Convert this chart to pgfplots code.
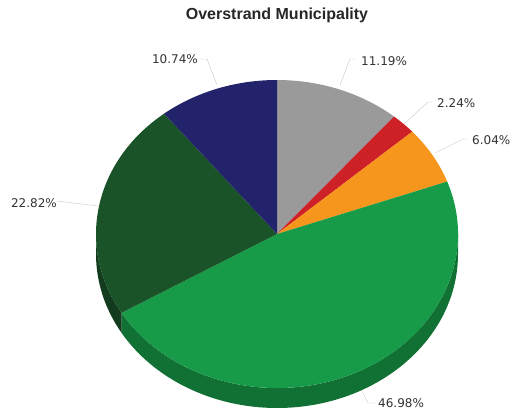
\documentclass[border=0pt]{standalone}
\usepackage{pgfplots}
\pgfplotsset{compat=1.18}
\usepackage{fontspec}
\setmainfont{DejaVu Sans}
\newfontfamily\titlefont{Liberation Sans}

\definecolor{sgray}{HTML}{9A9A9A}
\definecolor{sred}{HTML}{CE2027}
\definecolor{sorange}{HTML}{F7961D}
\definecolor{sgreen}{HTML}{179B48}
\definecolor{sdkgreen}{HTML}{1B5329}
\definecolor{snavy}{HTML}{22236A}
\definecolor{leader}{HTML}{C8C8C8}
\definecolor{labeltxt}{HTML}{333333}

% share (%) / colour, clockwise from 12 o'clock
\newcommand{\pieslices}{11.19/sgray, 2.24/sred, 6.04/sorange, 46.98/sgreen, 22.82/sdkgreen, 10.74/snavy}
\newcommand{\cx}{277}
\newcommand{\cy}{234}

\begin{document}
\begin{tikzpicture}
\begin{axis}[
    scale only axis,
    width=513pt, height=414pt,
    xmin=0, xmax=513, ymin=0, ymax=414,
    y dir=reverse,
    enlargelimits=false,
    hide axis,
    clip=false,
]
% leader lines
\addplot[leader, thin] coordinates {(355,59)(350,59)(340,85)};
\addplot[leader, thin] coordinates {(433,102)(428,102)(404,124)};
\addplot[leader, thin] coordinates {(468,139)(463,139)(435,153)};
\addplot[leader, thin] coordinates {(200,59)(207,59)(217,85)};
\addplot[leader, thin] coordinates {(57,201)(98,206)};
\addplot[leader, thin] coordinates {(375,403)(368,403)(355,377)};

\pgfplotsextra{
  \path (axis cs:0,0) rectangle (axis cs:513,414);
  % side walls (front half only)
  \xdef\pieS{90}
  \foreach \v/\c in \pieslices {
    \pgfmathsetmacro\pieE{\pieS-3.6*\v}
    \pgfmathsetmacro\lo{max(\pieE,-180)}
    \pgfmathsetmacro\hi{min(\pieS,0)}
    \pgfmathtruncatemacro\vis{\lo<\hi}
    \ifnum\vis=1
      \fill[fill=\c!72!black] (axis cs:\cx,\cy) ++(\lo:181pt and 154pt)
        arc[start angle=\lo, end angle=\hi, x radius=181pt, y radius=154pt]
        -- ++(0,-20pt)
        arc[start angle=\hi, end angle=\lo, x radius=181pt, y radius=154pt] -- cycle;
    \fi
    \xdef\pieS{\pieE}
  }
  % top faces
  \xdef\pieS{90}
  \foreach \v/\c in \pieslices {
    \pgfmathsetmacro\pieE{\pieS-3.6*\v}
    \fill[fill=\c] (axis cs:\cx,\cy) -- ++(\pieS:181pt and 154pt)
      arc[start angle=\pieS, end angle=\pieE, x radius=181pt, y radius=154pt] -- cycle;
    \xdef\pieS{\pieE}
  }
  \node[font=\titlefont\bfseries\fontsize{16}{18}\selectfont, text=black!85] at (axis cs:277,15) {Overstrand Municipality};
  \begin{scope}[every node/.style={font=\fontsize{12}{14}\selectfont, text=labeltxt, inner sep=1pt}]
    \node[anchor=west] at (axis cs:360,61) {11.19\%};
    \node[anchor=west] at (axis cs:436,103) {2.24\%};
    \node[anchor=west] at (axis cs:471,140) {6.04\%};
    \node[anchor=east] at (axis cs:199,59) {10.74\%};
    \node[anchor=east] at (axis cs:58,203) {22.82\%};
    \node[anchor=west] at (axis cs:377,403) {46.98\%};
  \end{scope}
}
\end{axis}
\end{tikzpicture}
\end{document}
